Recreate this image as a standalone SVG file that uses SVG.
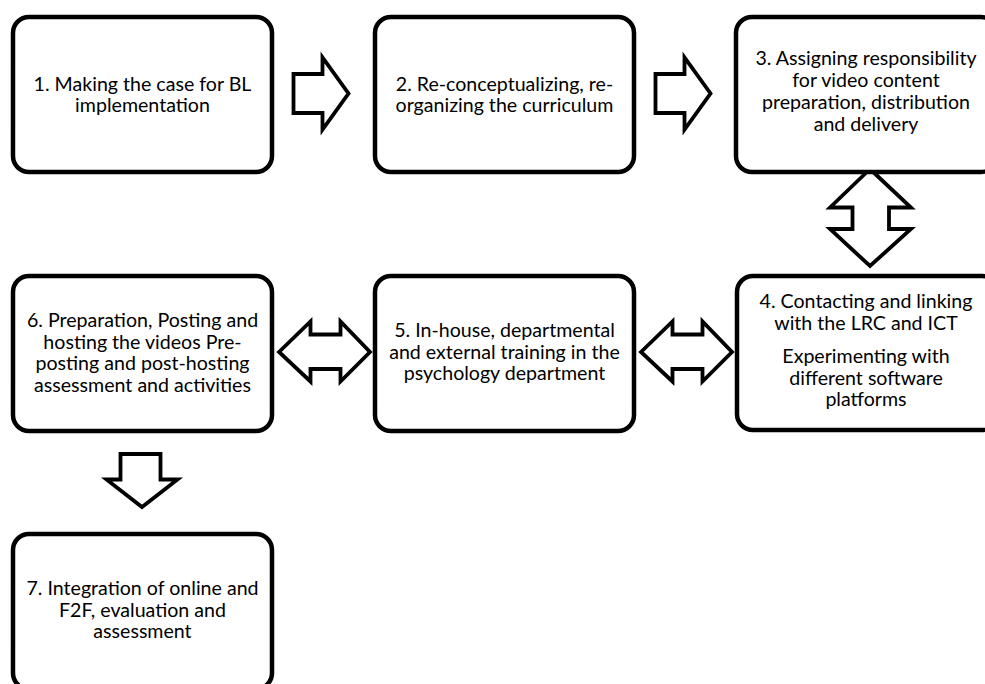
<svg xmlns="http://www.w3.org/2000/svg" width="985" height="684" viewBox="0 0 985 684">
<style>
.box{fill:#fff;stroke:#000;stroke-width:4.5}
.arr{fill:#fff;stroke:#000;stroke-width:3.8;stroke-linejoin:miter;stroke-miterlimit:10}
text{font-family:Lato,"Liberation Sans",sans-serif;font-size:19.6px;fill:#000;text-anchor:middle}
</style>
<rect width="985" height="684" fill="#fff"/>
<g id="connectors">
<polygon class="arr" points="293.5,74 322.5,74 322.5,57.5 348.5,93.5 322.5,129.5 322.5,113 293.5,113"/>
<polygon class="arr" points="655.5,74 684.5,74 684.5,57.5 710.5,93.5 684.5,129.5 684.5,113 655.5,113"/>
<polygon class="arr" points="870,169 911,207.5 889,207.5 889,229 911,229 870,266 830,229 852.5,229 852.5,207.5 830,207.5"/>
<polygon class="arr" points="279,352 310.5,321.5 310.5,334.5 340.5,334.5 340.5,321.5 370,352 340.5,381.5 340.5,369 310.5,369 310.5,381.5"/>
<polygon class="arr" points="641,352 672.5,321.5 672.5,334.5 702.5,334.5 702.5,321.5 732,352 702.5,381.5 702.5,369 672.5,369 672.5,381.5"/>
<polygon class="arr" points="120.5,454 160.5,454 160.5,479.5 177.5,479.5 142,507 106.5,479.5 120.5,479.5"/>
</g>
<g id="node1">
<rect class="box" x="13" y="17" width="259" height="155" rx="16"/>
<text><tspan x="142.5" y="91">1. Making the case for BL</tspan><tspan x="142.5" y="112">implementation</tspan></text>
</g>
<g id="node2">
<rect class="box" x="375" y="17" width="259" height="155" rx="16"/>
<text><tspan x="504.5" y="91">2. Re-conceptualizing, re-</tspan><tspan x="504.5" y="112">organizing the curriculum</tspan></text>
</g>
<g id="node3">
<rect class="box" x="736" y="17" width="261" height="155" rx="16"/>
<text><tspan x="866" y="65">3. Assigning responsibility</tspan><tspan x="866" y="87">for video content</tspan><tspan x="866" y="109">preparation, distribution</tspan><tspan x="866" y="130.5">and delivery</tspan></text>
</g>
<g id="node4">
<rect class="box" x="737" y="276" width="261" height="154" rx="16"/>
<text><tspan x="866" y="308">4. Contacting and linking</tspan><tspan x="866" y="329.5">with the LRC and ICT</tspan></text>
<text><tspan x="866" y="363">Experimenting with</tspan><tspan x="866" y="384.5">different software</tspan><tspan x="866" y="406">platforms</tspan></text>
</g>
<g id="node5">
<rect class="box" x="375" y="276" width="259" height="155" rx="16"/>
<text><tspan x="504.5" y="337">5. In-house, departmental</tspan><tspan x="504.5" y="358.5">and external training in the</tspan><tspan x="504.5" y="380">psychology department</tspan></text>
</g>
<g id="node6">
<rect class="box" x="13" y="276" width="259" height="155" rx="16"/>
<text><tspan x="142.5" y="327">6. Preparation, Posting and</tspan><tspan x="142.5" y="348.5">hosting the videos Pre-</tspan><tspan x="142.5" y="370">posting and post-hosting</tspan><tspan x="142.5" y="391.5">assessment and activities</tspan></text>
</g>
<g id="node7">
<rect class="box" x="13" y="534" width="259" height="155" rx="16"/>
<text><tspan x="142.5" y="595">7. Integration of online and</tspan><tspan x="142.5" y="616.5">F2F, evaluation and</tspan><tspan x="142.5" y="638">assessment</tspan></text>
</g>
</svg>
